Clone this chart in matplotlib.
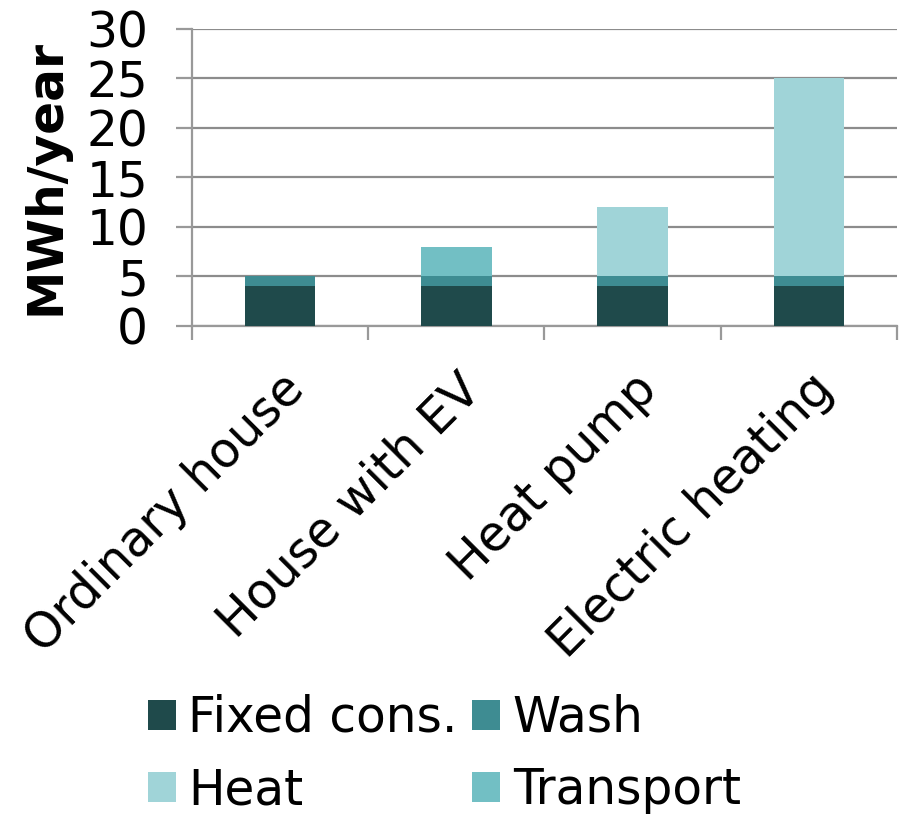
import numpy as np
import matplotlib
matplotlib.use('Agg')
import matplotlib.pyplot as plt

# data
categories = ['Ordinary house', 'House with EV', 'Heat pump', 'Electric heating']
fixed = [4, 4, 4, 4]
wash = [1, 1, 1, 1]
heat = [0, 0, 7, 20]
transport = [0, 3, 0, 0]

series = [
    ('Fixed cons.', fixed, '#1f4a4b'),
    ('Wash', wash, '#3e8c92'),
    ('Heat', heat, '#a0d4d8'),
    ('Transport', transport, '#72bfc4'),
]

plt.rcParams['font.family'] = ['DejaVu Sans']

fig = plt.figure(figsize=(9.01, 8.16), dpi=100)
ax = fig.add_axes([0.213, 0.6005, 0.7826, 0.364])

x = np.arange(len(categories))
bottom = np.zeros(len(categories))
bars = {}
for name, vals, col in series:
    bars[name] = ax.bar(x, vals, 0.4, bottom=bottom, color=col, label=name, zorder=3)
    bottom += np.array(vals)

ax.set_xlim(-0.5, len(categories) - 0.5)
ax.set_ylim(0, 30)
ax.set_yticks(range(0, 31, 5))
ax.grid(axis='y', color='#8c8c8c', linewidth=1.6, zorder=0)

for s in ['top', 'right']:
    ax.spines[s].set_visible(False)
ax.spines['left'].set_color('#999999')
ax.spines['left'].set_linewidth(1.6)
ax.spines['bottom'].set_color('#999999')
ax.spines['bottom'].set_linewidth(1.6)

ax.tick_params(axis='y', labelsize=35, length=11.5, width=1.6, color='#999999', pad=20)
ax.set_xticks(x)
ax.set_xticklabels(categories, rotation=45, ha='right', rotation_mode='anchor', fontsize=35)
ax.tick_params(axis='x', length=0, pad=28)
# boundary ticks on the x axis
ax.set_xticks(np.arange(-0.5, len(categories)), minor=True)
ax.tick_params(axis='x', which='minor', length=10, width=1.6, color='#999999')

ax.set_ylabel('MWh/year', fontsize=35, fontweight='bold', labelpad=12)

handles = [bars['Fixed cons.'], bars['Heat'], bars['Wash'], bars['Transport']]
labels = ['Fixed cons.', 'Heat', 'Wash', 'Transport']
fig.legend(handles, labels, ncol=2, loc='upper left', bbox_to_anchor=(148 / 901, 1 - 694 / 816),
           frameon=False, fontsize=35, handlelength=0.57, handleheight=0.57,
           handletextpad=0.26, columnspacing=0.3, labelspacing=0.5,
           borderpad=0, borderaxespad=0)

plt.savefig('out.png', dpi=100)
